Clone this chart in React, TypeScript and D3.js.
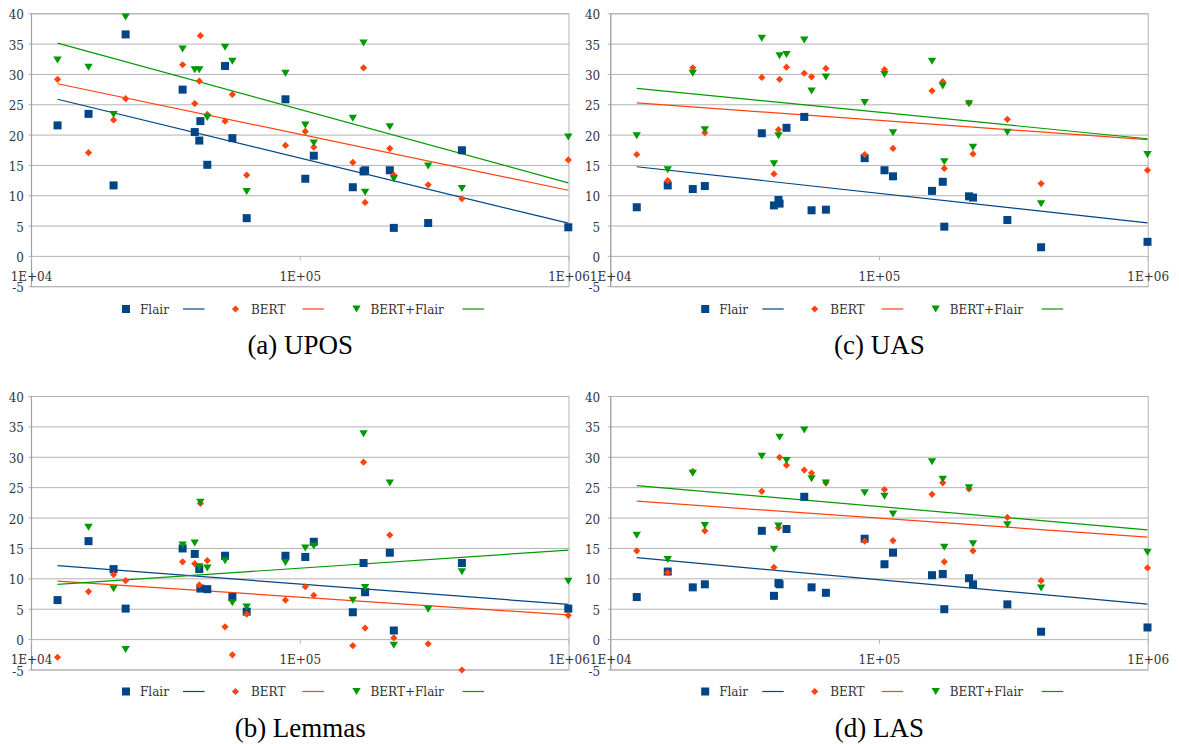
import React from 'react';
import * as d3 from 'd3';

// Treebank sizes (tokens), shared by all panels
const tokens = [12500, 16300, 20200, 22400, 36500, 40500, 42100, 42500, 45100, 52500, 55900, 63200, 88100, 104400, 112300, 156900, 172000, 174300, 215400, 222900, 299200, 399500, 994000];

const seriesNames = ['Flair', 'BERT', 'BERT+Flair'];
const seriesColors = ['#004586', '#ff420e', '#009a00'];

const yTicks = [-5, 0, 5, 10, 15, 20, 25, 30, 35, 40];
const xTicks = [1e4, 1e5, 1e6];
const xTickLabels = ['1E+04', '1E+05', '1E+06'];

// (a) UPOS
const uposFlair = [21.6, 23.5, 11.7, 36.6, 27.5, 20.5, 19.1, 22.3, 15.1, 31.4, 19.5, 6.3, 25.9, 12.8, 16.6, 11.4, 14.0, 14.2, 14.2, 4.7, 5.5, 17.5, 4.8];
const uposBert = [29.2, 17.1, 22.5, 26.0, 31.6, 25.2, 28.9, 36.4, 23.4, 22.3, 26.7, 13.4, 18.3, 20.6, 18.0, 15.5, 31.1, 8.9, 17.8, 13.4, 11.8, 9.5, 15.9];
const uposBertFlair = [32.4, 31.2, 23.4, 39.5, 34.2, 30.8, 30.8, 42.4, 22.9, 34.5, 32.2, 10.7, 30.2, 21.7, 18.7, 22.8, 35.2, 10.6, 21.4, 12.8, 14.9, 11.2, 19.7];

// (b) Lemmas
const lemmaFlair = [6.5, 16.2, 11.6, 5.1, 15.0, 14.1, 11.6, 8.4, 8.3, 13.8, 7.0, 4.6, 13.8, 13.6, 16.1, 4.5, 12.6, 7.8, 14.3, 1.5, -6.4, 12.6, 5.1];
const lemmaBert = [-2.9, 7.9, 10.7, 9.7, 12.8, 12.5, 9.0, 22.4, 13.0, 2.1, -2.5, 4.2, 6.5, 8.7, 7.3, -1.0, 29.2, 1.9, 17.2, 0.3, -0.7, -5.0, 4.0];
const lemmaBertFlair = [-6.8, 18.5, 8.4, -1.6, 15.6, 15.9, 12.0, 22.6, 11.8, 13.0, 6.1, 5.4, 12.7, 15.1, 15.4, 6.5, 33.9, 8.6, 25.8, -0.9, 5.0, 11.2, 9.6];

// (c) UAS
const uasFlair = [8.1, 11.7, 11.1, 11.6, 20.3, 8.4, 9.3, 8.7, 21.2, 23.0, 7.6, 7.7, 16.2, 14.2, 13.2, 10.8, 12.3, 4.9, 9.9, 9.7, 6.0, 1.5, 2.4];
const uasBert = [16.8, 12.5, 31.1, 20.4, 29.5, 13.6, 20.9, 29.2, 31.2, 30.2, 29.6, 31.0, 16.8, 30.8, 17.8, 27.3, 28.8, 14.5, 25.3, 16.9, 22.6, 12.0, 14.2];
const uasBertFlair = [19.9, 14.3, 30.2, 20.9, 36.0, 15.3, 19.9, 33.1, 33.3, 35.7, 27.3, 29.6, 25.4, 30.0, 20.4, 32.2, 28.1, 15.6, 25.2, 18.0, 20.5, 8.7, 16.8];

// (d) LAS
const lasFlair = [7.0, 11.2, 8.6, 9.1, 17.9, 7.2, 9.3, 9.1, 18.2, 23.5, 8.6, 7.7, 16.6, 12.4, 14.3, 10.6, 10.8, 5.0, 10.1, 9.1, 5.8, 1.3, 2.0];
const lasBert = [14.6, 11.0, 27.7, 17.9, 24.4, 11.9, 18.4, 30.0, 28.7, 27.9, 27.4, 25.8, 16.2, 24.7, 16.3, 23.9, 25.8, 12.8, 24.8, 14.6, 20.1, 9.7, 11.8];
const lasBertFlair = [17.2, 13.2, 27.4, 18.8, 30.2, 14.9, 18.7, 33.3, 29.5, 34.5, 26.5, 25.8, 24.2, 23.6, 20.7, 29.3, 26.4, 15.2, 25.0, 15.8, 18.9, 8.5, 14.4];

const panelTitles = ['(a) UPOS', '(b) Lemmas', '(c) UAS', '(d) LAS'];

const PLOT_W = 537.5;
const GRID = '#b3b3b3';
const TEXT = '#333';
const FONT = 'DejaVu Serif, Liberation Serif, Noto Serif, Times New Roman, Times, serif';
const CAP_FONT = 'Liberation Serif, Times New Roman, Times, Nimbus Roman, DejaVu Serif, serif';

function regression(xs: number[], ys: number[]) {
  const lx = xs.map((v) => Math.log10(v));
  const mx = d3.mean(lx) as number;
  const my = d3.mean(ys) as number;
  let num = 0, den = 0;
  lx.forEach((v, i) => { num += (v - mx) * (ys[i] - my); den += (v - mx) * (v - mx); });
  const slope = num / den;
  return (x: number) => my + slope * (Math.log10(x) - mx);
}

function Marker({ kind, color }: { kind: number; color: string }) {
  if (kind === 0) return <rect x={-4} y={-4} width={8} height={8} fill={color} />;
  if (kind === 1) return <path d={d3.symbol(d3.symbolSquare, 26)() as string} transform="rotate(45)" fill={color} />;
  return <path d="M-4.2,-3.4L4.2,-3.4L0,3.6Z" fill={color} />;
}

function Panel({ left, top, bottom, labelGap, legendY, captionY, series, title }: any) {
  const x = d3.scaleLog().domain([1e4, 1e6]).range([left, left + PLOT_W]);
  const y = d3.scaleLinear().domain([-5, 40]).range([bottom, top]);
  const [y0, y1] = y.domain();
  const xMin = d3.min(tokens) as number;
  const xMax = d3.max(tokens) as number;

  const legendOffsets = [
    { marker: 94.5, text: 108.5, line: [151.5, 173] },
    { marker: 204, text: 219.5, line: [271, 292.5] },
    { marker: 325, text: 339, line: [431, 452.5] },
  ];

  return (
    <g>
      {yTicks.map((t) => (
        <line key={'g' + t} x1={left - 3} x2={left + PLOT_W} y1={y(t)} y2={y(t)} stroke={GRID} strokeWidth={1} />
      ))}
      <rect x={left} y={top} width={PLOT_W} height={bottom - top} fill="none" stroke={GRID} strokeWidth={1} />
      <line x1={left} x2={left} y1={top} y2={bottom} stroke="#a0a0a0" strokeWidth={1.2} />
      {xTicks.map((t) => (
        <line key={'xt' + t} x1={x(t)} x2={x(t)} y1={y(0)} y2={y(0) + 4} stroke={GRID} strokeWidth={1} />
      ))}
      {yTicks.map((t) => (
        <text key={'yl' + t} x={left - labelGap} y={y(t) + 5.5} textAnchor="end" style={{ fontFamily: FONT }} fontSize={12} fill={TEXT}>
          {t}
        </text>
      ))}
      {xTicks.map((t, i) => (
        <text key={'xl' + t} x={x(t)} y={y(0) + 24.8} textAnchor="middle" style={{ fontFamily: FONT }} fontSize={12} fill={TEXT}>
          {xTickLabels[i]}
        </text>
      ))}
      {series.map((vals: number[], si: number) => {
        const f = regression(tokens, vals);
        return (
          <line key={'tr' + si} x1={x(xMin)} y1={y(f(xMin))} x2={x(xMax)} y2={y(f(xMax))} stroke={seriesColors[si]} strokeWidth={1.2} />
        );
      })}
      {series.map((vals: number[], si: number) => (
        <g key={'s' + si}>
          {vals.map((v, i) =>
            v >= y0 - 0.01 && v <= y1 + 0.01 ? (
              <g key={i} transform={`translate(${x(tokens[i])},${y(v)})`}>
                <Marker kind={si} color={seriesColors[si]} />
              </g>
            ) : null
          )}
        </g>
      ))}
      {seriesNames.map((name, si) => {
        const o = legendOffsets[si];
        return (
          <g key={'lg' + si}>
            <g transform={`translate(${left + o.marker},${legendY})`}>
              <Marker kind={si} color={seriesColors[si]} />
            </g>
            <text x={left + o.text} y={legendY + 4.5} style={{ fontFamily: FONT }} fontSize={12} fill={TEXT}>{name}</text>
            <line x1={left + o.line[0]} x2={left + o.line[1]} y1={legendY} y2={legendY} stroke={seriesColors[si]} strokeWidth={1.2} />
          </g>
        );
      })}
      <text x={left + PLOT_W / 2} y={captionY} textAnchor="middle" style={{ fontFamily: CAP_FONT }} fontSize={27} fill="#000">
        {title}
      </text>
    </g>
  );
}

export default function App() {
  const panels = [
    { left: 31.5, top: 13.8, bottom: 286.7, labelGap: 7.5, legendY: 309, captionY: 354, series: [uposFlair, uposBert, uposBertFlair], title: panelTitles[0] },
    { left: 31.5, top: 396.5, bottom: 670, labelGap: 7.5, legendY: 691.5, captionY: 737, series: [lemmaFlair, lemmaBert, lemmaBertFlair], title: panelTitles[1] },
    { left: 610.7, top: 13.8, bottom: 286.7, labelGap: 10.5, legendY: 309, captionY: 354, series: [uasFlair, uasBert, uasBertFlair], title: panelTitles[2] },
    { left: 610.7, top: 396.5, bottom: 670, labelGap: 10.5, legendY: 691.5, captionY: 737, series: [lasFlair, lasBert, lasBertFlair], title: panelTitles[3] },
  ];
  return (
    <svg width={1179} height={744} style={{ position: 'absolute', left: 0, top: 0, background: '#fff' }}>
      <rect width={1179} height={744} fill="#fff" />
      {panels.map((p, i) => (
        <Panel key={i} {...p} />
      ))}
    </svg>
  );
}
